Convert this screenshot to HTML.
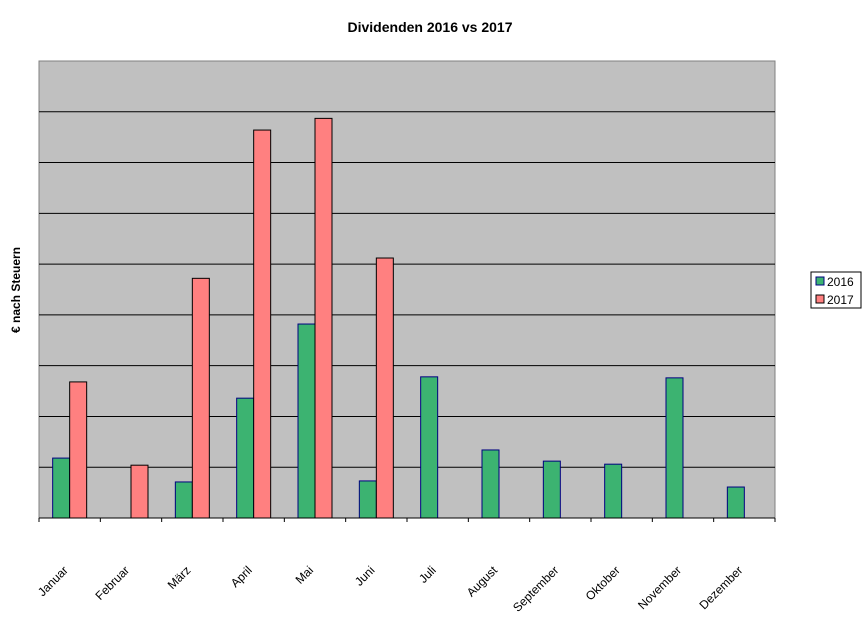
<!DOCTYPE html>
<html><head><meta charset="utf-8"><style>body{margin:0;background:#fff}svg{display:block}</style></head>
<body>
<svg width="866" height="627" xmlns="http://www.w3.org/2000/svg" font-family="Liberation Sans, Arial, sans-serif">
<text x="430" y="32" text-anchor="middle" font-size="14" font-weight="bold">Dividenden 2016 vs 2017</text>
<text transform="translate(20,290) rotate(-90)" text-anchor="middle" font-size="12" font-weight="bold">€ nach Steuern</text>
<rect x="39" y="61" width="736" height="457" fill="#c0c0c0" stroke="#808080"/>
<g id="grid"></g>
<g id="bars"></g>
<g id="axis"></g>
<g>
<rect x="811" y="272" width="50" height="36" fill="#fff" stroke="#000"/>
<rect x="816" y="277" width="8" height="8" fill="#3cb371" stroke="#000080"/>
<text x="827" y="286" font-size="12">2016</text>
<rect x="816" y="295" width="8" height="8" fill="#ff8080" stroke="#000"/>
<text x="827" y="304" font-size="12">2017</text>
</g>
</svg>
<script>
const months = ["Januar","Februar","März","April","Mai","Juni","Juli","August","September","Oktober","November","Dezember"];
const values2016 = [1.18,0,0.71,2.36,3.82,0.73,2.78,1.34,1.12,1.06,2.76,0.61];
const values2017 = [2.68,1.04,4.72,7.64,7.87,5.12,0,0,0,0,0,0];
const yMax = 9;
const NS="http://www.w3.org/2000/svg";
const L=39,T=61,W=736,H=457;
const y=v=>T+H-v/yMax*H;
const bw=W/months.length;
const grid=document.getElementById('grid'),bars=document.getElementById('bars'),axis=document.getElementById('axis');
function mk(tag,a){const e=document.createElementNS(NS,tag);for(const k in a)e.setAttribute(k,a[k]);return e;}
for(let i=1;i<yMax;i++){const l=mk('line',{x1:L,x2:L+W,y1:y(i),y2:y(i),stroke:'#000','stroke-width':1});

grid.appendChild(l);}
const base=mk('line',{x1:L,x2:L+W,y1:T+H,y2:T+H,stroke:'#000'});

axis.appendChild(base);
months.forEach((m,i)=>{
 const c=L+bw*(i+0.5);
 const t=mk('line',{x1:L+bw*i,x2:L+bw*i,y1:T+H,y2:T+H+4,stroke:'#000'});
 
 axis.appendChild(t);
 if(values2016[i]>0){const r=mk('rect',{x:c-17,y:y(values2016[i]),width:17,height:T+H-y(values2016[i]),fill:'#3cb371',stroke:'#000080'});
 
 bars.appendChild(r);}
 if(values2017[i]>0){const r=mk('rect',{x:c,y:y(values2017[i]),width:17,height:T+H-y(values2017[i]),fill:'#ff8080',stroke:'#000'});
 
 bars.appendChild(r);}
 const tx=mk('text',{'text-anchor':'end','font-size':12,transform:`translate(${c-1},571) rotate(-45)`});
 tx.textContent=m;
 
 axis.appendChild(tx);
});
const e=mk('line',{x1:L+W,x2:L+W,y1:T+H,y2:T+H+4,stroke:'#000'});axis.appendChild(e);
</script>
</body></html>
